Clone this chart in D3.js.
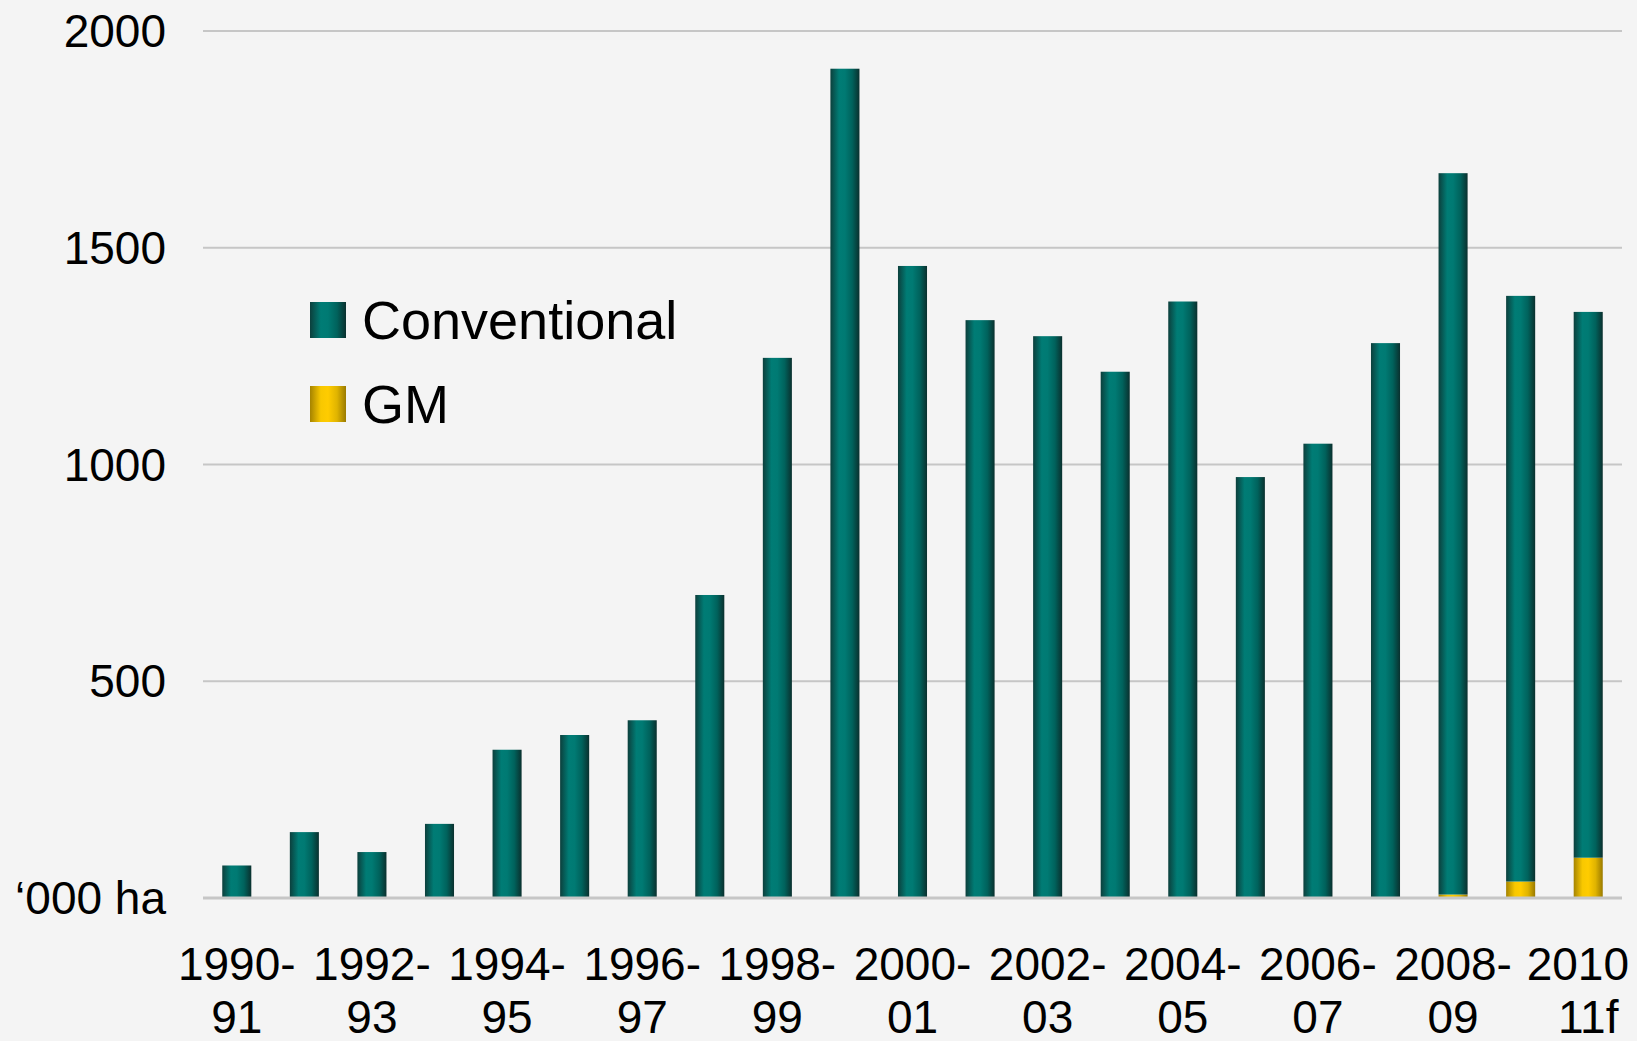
<!DOCTYPE html>
<html>
<head>
<meta charset="utf-8">
<script src="https://cdn.jsdelivr.net/npm/d3@7"></script>
<style>
  body { margin: 0; background: #f4f4f4; }
  svg { display: block; font-family: "Liberation Sans", Arial, sans-serif; }
</style>
</head>
<body>
<div id="chart"></div>
<script>
const seasons = ["1990-91","1991-92","1992-93","1993-94","1994-95","1995-96","1996-97","1997-98","1998-99","1999-00",
  "2000-01","2001-02","2002-03","2003-04","2004-05","2005-06","2006-07","2007-08","2008-09","2009-10","2010-11f"];
const conventional = [75,152,106,171,342,376,410,699,1246,1913,1458,1333,1296,1214,1376,971,1048,1280,1664,1351,1259];
const gm = [0,0,0,0,0,0,0,0,0,0,0,0,0,0,0,0,0,0,8,38,93];
const yTicks = [0, 500, 1000, 1500, 2000];
// only every other season gets a label, split on two lines
const xLabels = {
  "1990-91": ["1990-", "91"], "1992-93": ["1992-", "93"], "1994-95": ["1994-", "95"],
  "1996-97": ["1996-", "97"], "1998-99": ["1998-", "99"], "2000-01": ["2000-", "01"],
  "2002-03": ["2002-", "03"], "2004-05": ["2004-", "05"], "2006-07": ["2006-", "07"],
  "2008-09": ["2008-", "09"], "2010-11f": ["2010", "11f"]
};

const width = 1637, height = 1041;
const plotLeft = 203, plotRight = 1622, plotTop = 31, plotBottom = 898;

const svg = d3.select("#chart").append("svg")
  .attr("width", width)
  .attr("height", height);

svg.append("rect").attr("width", width).attr("height", height).attr("fill", "#f4f4f4");

const defs = svg.append("defs");
function cylinder(id, stops) {
  const g = defs.append("linearGradient").attr("id", id)
    .attr("x1", "0%").attr("x2", "100%").attr("y1", "0%").attr("y2", "0%");
  stops.forEach(s => g.append("stop").attr("offset", s[0]).attr("stop-color", s[1]));
}
cylinder("teal", [["0%", "#0c3f3c"], ["30%", "#007c75"], ["50%", "#007a73"], ["75%", "#00625c"], ["100%", "#0a302e"]]);
cylinder("gold", [["0%", "#a58300"], ["30%", "#f8c800"], ["50%", "#ffcc00"], ["75%", "#e0b400"], ["100%", "#9a7a00"]]);

const x = d3.scaleBand().domain(seasons).range([plotLeft, plotRight]).paddingInner(0.57).paddingOuter(0.285);
const y = d3.scaleLinear().domain([0, 2000]).range([plotBottom, plotTop]);

// gridlines
svg.append("g").selectAll("line")
  .data(yTicks.filter(d => d > 0))
  .enter().append("line")
  .attr("x1", plotLeft).attr("x2", plotRight)
  .attr("y1", d => y(d)).attr("y2", d => y(d))
  .attr("stroke", "#c6c6c6").attr("stroke-width", 2);

// y labels
svg.append("g").selectAll("text")
  .data(yTicks)
  .enter().append("text")
  .attr("x", 166)
  .attr("y", d => y(d))
  .attr("dy", "0.35em")
  .attr("text-anchor", "end")
  .attr("font-size", 46)
  .attr("fill", "#000")
  .text(d => d === 0 ? "\u2018000 ha" : d);

const rows = seasons.map((s, i) => ({ season: s, conv: conventional[i], gm: gm[i] }));

// GM at bottom, conventional stacked above
svg.append("g").selectAll("rect.gm")
  .data(rows.filter(d => d.gm > 0))
  .enter().append("rect")
  .attr("x", d => x(d.season))
  .attr("width", x.bandwidth())
  .attr("y", d => y(d.gm))
  .attr("height", d => y(0) - y(d.gm))
  .attr("fill", "url(#gold)");

svg.append("g").selectAll("rect.conv")
  .data(rows)
  .enter().append("rect")
  .attr("x", d => x(d.season))
  .attr("width", x.bandwidth())
  .attr("y", d => y(d.gm + d.conv))
  .attr("height", d => y(d.gm) - y(d.gm + d.conv))
  .attr("fill", "url(#teal)");

// baseline
svg.append("line")
  .attr("x1", plotLeft).attr("x2", plotRight)
  .attr("y1", y(0)).attr("y2", y(0))
  .attr("stroke", "#c6c6c6").attr("stroke-width", 3);

// x labels
const xl = svg.append("g").selectAll("text")
  .data(seasons.filter(s => xLabels[s]))
  .enter().append("text")
  .attr("text-anchor", "middle")
  .attr("font-size", 46)
  .attr("fill", "#000");
xl.append("tspan")
  .attr("y", 980)
  .text(d => xLabels[d][0])
  .attr("x", function(d) {
    const c = x(d) + x.bandwidth() / 2;
    const w = this.getComputedTextLength();
    return Math.min(c, width - 8 - w / 2); // keep the last one inside
  });
xl.append("tspan")
  .attr("x", d => x(d) + x.bandwidth() / 2)
  .attr("y", 1033)
  .text(d => xLabels[d][1]);

// legend
const legend = svg.append("g");
const items = [["Conventional", "url(#teal)", 302], ["GM", "url(#gold)", 386]];
items.forEach(([label, fill, yy]) => {
  legend.append("rect").attr("x", 310).attr("y", yy).attr("width", 36).attr("height", 36).attr("fill", fill);
  legend.append("text").attr("x", 362).attr("y", yy + 37)
    .attr("font-size", 54).attr("fill", "#000").text(label);
});
</script>
</body>
</html>
